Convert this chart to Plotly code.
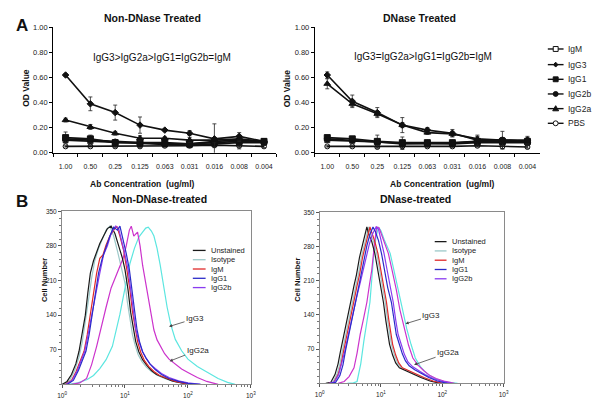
import math
import plotly.graph_objects as go

W, H = 601, 407
def px(x):
    return x / W
def py(y):
    return 1 - y / H

FONT = "Liberation Sans, Arial, sans-serif"

# ---------------- Panel A data ----------------
conc = ["1.00", "0.50", "0.25", "0.125", "0.063", "0.031", "0.016", "0.008", "0.004"]

nd_IgM   = [0.10, 0.09, 0.08, 0.07, 0.065, 0.06, 0.07, 0.08, 0.08]
nd_IgG3  = [0.62, 0.39, 0.32, 0.22, 0.18, 0.155, 0.11, 0.13, 0.09]
nd_IgG1  = [0.12, 0.11, 0.08, 0.08, 0.08, 0.07, 0.08, 0.09, 0.09]
nd_IgG2b = [0.11, 0.10, 0.085, 0.075, 0.07, 0.07, 0.09, 0.10, 0.09]
nd_IgG2a = [0.26, 0.205, 0.155, 0.115, 0.115, 0.10, 0.10, 0.11, 0.09]
nd_PBS   = [0.05, 0.05, 0.05, 0.05, 0.055, 0.055, 0.06, 0.055, 0.05]

nd_IgM_err   = [0.02, 0.02, 0.015, 0.03, 0.015, 0.015, 0.03, 0.05, 0.02]
nd_IgG3_err  = [0.01, 0.055, 0.06, 0.065, 0.01, 0.02, 0.12, 0.03, 0.015]
nd_IgG1_err  = [0.045, 0.03, 0.02, 0.02, 0.02, 0.02, 0.03, 0.03, 0.02]
nd_IgG2b_err = [0.02, 0.02, 0.015, 0.02, 0.015, 0.015, 0.02, 0.02, 0.02]
nd_IgG2a_err = [0.015, 0.02, 0.015, 0.02, 0.01, 0.02, 0.02, 0.02, 0.015]
nd_PBS_err   = [0.005, 0.005, 0.01, 0.005, 0.005, 0.005, 0.01, 0.01, 0.01]

dn_IgM   = [0.10, 0.095, 0.085, 0.075, 0.07, 0.07, 0.08, 0.08, 0.08]
dn_IgG3  = [0.62, 0.41, 0.32, 0.22, 0.18, 0.155, 0.10, 0.10, 0.10]
dn_IgG1  = [0.12, 0.11, 0.09, 0.08, 0.08, 0.08, 0.09, 0.09, 0.09]
dn_IgG2b = [0.11, 0.10, 0.085, 0.07, 0.075, 0.075, 0.09, 0.10, 0.09]
dn_IgG2a = [0.55, 0.39, 0.31, 0.22, 0.16, 0.15, 0.11, 0.10, 0.09]
dn_PBS   = [0.05, 0.05, 0.045, 0.05, 0.05, 0.05, 0.055, 0.05, 0.045]

dn_IgM_err   = [0.01, 0.01, 0.02, 0.05, 0.02, 0.02, 0.02, 0.03, 0.02]
dn_IgG3_err  = [0.025, 0.05, 0.04, 0.06, 0.02, 0.03, 0.04, 0.07, 0.03]
dn_IgG1_err  = [0.015, 0.015, 0.05, 0.015, 0.015, 0.015, 0.02, 0.03, 0.03]
dn_IgG2b_err = [0.01, 0.015, 0.015, 0.015, 0.01, 0.01, 0.02, 0.02, 0.02]
dn_IgG2a_err = [0.04, 0.02, 0.02, 0.02, 0.015, 0.02, 0.02, 0.02, 0.02]
dn_PBS_err   = [0.005, 0.005, 0.01, 0.01, 0.01, 0.01, 0.01, 0.02, 0.01]

# ---------------- Panel B data (x = log10 fluorescence, y = cell number) ----------------
nd_unst_x = [0.00, 0.08, 0.15, 0.22, 0.27, 0.32, 0.37, 0.41, 0.45, 0.50, 0.55, 0.60, 0.66, 0.72, 0.78, 0.84, 0.90, 0.96, 1.00, 1.05, 1.09, 1.13, 1.17, 1.22, 1.28, 1.35, 1.42, 1.50, 1.62, 1.75, 1.90, 2.05]
nd_unst_y = [0, 6, 20, 42, 67, 100, 140, 185, 225, 250, 268, 285, 300, 315, 320, 305, 280, 255, 232, 190, 146, 112, 87, 66, 50, 38, 28, 20, 13, 7, 3, 0]
nd_iso_x = [0.03, 0.12, 0.20, 0.27, 0.32, 0.37, 0.42, 0.47, 0.52, 0.58, 0.64, 0.70, 0.76, 0.82, 0.88, 0.94, 1.00, 1.04, 1.08, 1.12, 1.16, 1.21, 1.27, 1.34, 1.42, 1.52, 1.65, 1.80, 1.95, 2.10]
nd_iso_y = [0, 8, 28, 55, 85, 125, 170, 215, 250, 275, 295, 312, 320, 300, 270, 240, 205, 165, 130, 100, 80, 60, 46, 35, 26, 18, 11, 5, 2, 0]
nd_igm_x = [0.05, 0.15, 0.22, 0.29, 0.35, 0.40, 0.45, 0.50, 0.55, 0.60, 0.65, 0.70, 0.76, 0.82, 0.87, 0.92, 0.98, 1.03, 1.08, 1.12, 1.16, 1.20, 1.25, 1.31, 1.38, 1.46, 1.55, 1.66, 1.80, 1.95, 2.10]
nd_igm_y = [0, 8, 25, 48, 67, 100, 140, 185, 225, 255, 262, 282, 300, 312, 320, 300, 270, 232, 190, 146, 112, 87, 65, 48, 36, 26, 18, 12, 6, 2, 0]
nd_igg1_x = [0.08, 0.18, 0.26, 0.33, 0.38, 0.43, 0.48, 0.53, 0.58, 0.64, 0.70, 0.76, 0.82, 0.88, 0.92, 0.97, 1.02, 1.07, 1.11, 1.15, 1.19, 1.23, 1.28, 1.34, 1.40, 1.48, 1.58, 1.70, 1.85, 2.00, 2.20]
nd_igg1_y = [0, 8, 28, 50, 67, 100, 140, 180, 225, 255, 280, 300, 318, 312, 320, 295, 265, 232, 190, 146, 112, 87, 66, 52, 41, 30, 20, 12, 6, 2, 0]
nd_igg2b_x = [0.06, 0.16, 0.24, 0.31, 0.36, 0.42, 0.47, 0.53, 0.60, 0.66, 0.72, 0.78, 0.85, 0.90, 0.95, 1.00, 1.05, 1.09, 1.13, 1.17, 1.22, 1.28, 1.34, 1.40, 1.48, 1.58, 1.70, 1.85, 2.00, 2.20]
nd_igg2b_y = [0, 8, 27, 50, 67, 105, 140, 180, 225, 262, 280, 305, 320, 315, 290, 262, 232, 190, 146, 112, 87, 66, 52, 41, 32, 22, 14, 7, 3, 0]
nd_igg2a_x = [0.15, 0.28, 0.39, 0.47, 0.55, 0.62, 0.70, 0.78, 0.86, 0.92, 0.97, 1.02, 1.07, 1.10, 1.14, 1.20, 1.24, 1.28, 1.33, 1.38, 1.42, 1.46, 1.51, 1.56, 1.63, 1.70, 1.80, 1.90, 2.00, 2.15, 2.30, 2.48]
nd_igg2a_y = [0, 3, 12, 40, 77, 115, 156, 195, 221, 240, 255, 280, 312, 320, 300, 308, 280, 241, 205, 176, 140, 110, 90, 77, 62, 51, 40, 31, 24, 14, 6, 0]
nd_igg3_x = [0.10, 0.25, 0.40, 0.50, 0.60, 0.70, 0.80, 0.86, 0.92, 0.97, 1.02, 1.08, 1.15, 1.22, 1.28, 1.33, 1.37, 1.42, 1.46, 1.51, 1.56, 1.62, 1.67, 1.73, 1.80, 1.90, 2.00, 2.15, 2.32, 2.48, 2.63, 2.75]
nd_igg3_y = [0, 3, 10, 18, 32, 50, 77, 108, 142, 175, 209, 245, 275, 298, 308, 316, 318, 310, 300, 275, 241, 196, 156, 120, 91, 68, 51, 36, 24, 12, 4, 0]

dn_unst_x = [0.10, 0.18, 0.25, 0.30, 0.34, 0.39, 0.44, 0.48, 0.52, 0.56, 0.60, 0.65, 0.69, 0.73, 0.77, 0.80, 0.85, 0.90, 0.95, 1.00, 1.04, 1.08, 1.11, 1.14, 1.19, 1.24, 1.30, 1.40, 1.52, 1.65, 1.80, 1.97]
dn_unst_y = [0, 2, 18, 40, 66, 95, 125, 146, 175, 200, 222, 258, 280, 300, 320, 305, 290, 266, 232, 196, 166, 128, 100, 80, 58, 42, 32, 26, 20, 12, 5, 0]
dn_iso_x = [0.13, 0.21, 0.28, 0.33, 0.37, 0.42, 0.47, 0.51, 0.55, 0.59, 0.63, 0.68, 0.72, 0.76, 0.80, 0.83, 0.88, 0.93, 0.98, 1.03, 1.07, 1.11, 1.14, 1.17, 1.22, 1.27, 1.33, 1.43, 1.55, 1.68, 1.83, 2.00]
dn_iso_y = [0, 2, 18, 40, 66, 95, 125, 146, 175, 200, 222, 258, 280, 300, 320, 305, 290, 266, 232, 196, 166, 128, 100, 80, 58, 42, 32, 26, 20, 12, 5, 0]
dn_igm_x = [0.15, 0.23, 0.30, 0.35, 0.39, 0.44, 0.49, 0.53, 0.57, 0.61, 0.65, 0.70, 0.74, 0.78, 0.82, 0.86, 0.90, 0.95, 1.00, 1.05, 1.09, 1.13, 1.16, 1.19, 1.24, 1.29, 1.35, 1.45, 1.57, 1.70, 1.85, 2.02]
dn_igm_y = [0, 2, 18, 40, 66, 95, 125, 146, 175, 200, 222, 258, 280, 300, 320, 305, 290, 266, 232, 196, 166, 128, 100, 80, 58, 42, 32, 26, 20, 12, 5, 0]
dn_igg1_x = [0.18, 0.26, 0.33, 0.38, 0.42, 0.47, 0.52, 0.56, 0.60, 0.64, 0.68, 0.73, 0.77, 0.82, 0.87, 0.91, 0.96, 1.01, 1.06, 1.11, 1.17, 1.21, 1.25, 1.30, 1.35, 1.40, 1.46, 1.55, 1.66, 1.78, 1.92, 2.08]
dn_igg1_y = [0, 2, 16, 38, 66, 95, 125, 150, 175, 200, 225, 258, 282, 305, 320, 310, 292, 265, 232, 196, 166, 128, 100, 80, 60, 46, 36, 28, 20, 12, 5, 0]
dn_igg2b_x = [0.15, 0.24, 0.31, 0.36, 0.41, 0.46, 0.51, 0.56, 0.61, 0.66, 0.71, 0.76, 0.81, 0.86, 0.92, 0.96, 1.00, 1.05, 1.10, 1.15, 1.20, 1.24, 1.28, 1.33, 1.38, 1.44, 1.52, 1.62, 1.72, 1.85, 2.00, 2.15]
dn_igg2b_y = [0, 3, 18, 40, 66, 95, 125, 148, 180, 205, 232, 258, 285, 305, 320, 315, 295, 266, 232, 198, 166, 130, 100, 80, 60, 44, 34, 26, 18, 10, 4, 0]
dn_igg2a_x = [0.30, 0.40, 0.48, 0.56, 0.61, 0.66, 0.72, 0.77, 0.81, 0.85, 0.89, 0.93, 0.97, 1.02, 1.07, 1.12, 1.18, 1.25, 1.31, 1.38, 1.45, 1.52, 1.60, 1.70, 1.80, 1.90, 2.05, 2.20]
dn_igg2a_y = [0, 4, 14, 32, 62, 100, 135, 166, 200, 232, 280, 320, 318, 300, 285, 266, 232, 192, 150, 112, 78, 52, 38, 26, 16, 10, 4, 0]
dn_igg3_x = [0.45, 0.55, 0.61, 0.67, 0.72, 0.77, 0.82, 0.88, 0.92, 0.96, 1.00, 1.05, 1.10, 1.15, 1.21, 1.28, 1.35, 1.42, 1.49, 1.56, 1.65, 1.75, 1.88, 2.05, 2.25]
dn_igg3_y = [0, 1, 4, 40, 86, 125, 166, 260, 300, 320, 312, 295, 282, 266, 232, 192, 150, 112, 80, 52, 33, 20, 10, 3, 0]

hist_labels = ["Unstained", "Isotype", "IgM", "IgG1", "IgG2b"]
decade_ticks = [0, 1, 2, 3]
decade_text = ["10<sup>0</sup>", "10<sup>1</sup>", "10<sup>2</sup>", "10<sup>3</sup>"]
count_ticks = [70, 140, 210, 280, 350]

# ---------------- styles ----------------
A_STYLE = {
    "IgM":   dict(symbol="square-open", size=5),
    "IgG3":  dict(symbol="diamond", size=5),
    "IgG1":  dict(symbol="square", size=6),
    "IgG2b": dict(symbol="circle", size=6),
    "IgG2a": dict(symbol="triangle-up", size=6),
    "PBS":   dict(symbol="circle-open", size=5),
}
H_COL = {
    "Unstained": "#1a1a1a",
    "Isotype": "#9cc9c9",
    "IgM": "#e02a2a",
    "IgG1": "#2b2bc8",
    "IgG2b": "#8a3cf0",
    "IgG2a": "#cc33cc",
    "IgG3": "#5ce6e0",
}

fig = go.Figure()

def add_A(name, ys, errs, xa, ya):
    st = A_STYLE[name]
    fig.add_trace(go.Scatter(
        x=conc, y=ys, mode="lines+markers", name=name, showlegend=False,
        xaxis=xa, yaxis=ya,
        line=dict(color="#111111", width=1.6),
        marker=dict(symbol=st["symbol"], size=st["size"], color="#111111",
                    line=dict(color="#111111", width=1)),
        error_y=dict(type="data", array=errs, visible=True, color="#222222",
                     thickness=0.8, width=2),
    ))

for name, ys, errs in [("PBS", nd_PBS, nd_PBS_err), ("IgM", nd_IgM, nd_IgM_err),
                       ("IgG2b", nd_IgG2b, nd_IgG2b_err), ("IgG1", nd_IgG1, nd_IgG1_err),
                       ("IgG2a", nd_IgG2a, nd_IgG2a_err), ("IgG3", nd_IgG3, nd_IgG3_err)]:
    add_A(name, ys, errs, "x", "y")
for name, ys, errs in [("PBS", dn_PBS, dn_PBS_err), ("IgM", dn_IgM, dn_IgM_err),
                       ("IgG2b", dn_IgG2b, dn_IgG2b_err), ("IgG1", dn_IgG1, dn_IgG1_err),
                       ("IgG2a", dn_IgG2a, dn_IgG2a_err), ("IgG3", dn_IgG3, dn_IgG3_err)]:
    add_A(name, ys, errs, "x2", "y2")

def add_H(name, xs, ys, xa, ya):
    fig.add_trace(go.Scatter(
        x=xs, y=ys, mode="lines", name=name, showlegend=False,
        xaxis=xa, yaxis=ya, line=dict(color=H_COL[name], width=1.2),
    ))

for name, xs, ys in [("Isotype", nd_iso_x, nd_iso_y), ("IgG3", nd_igg3_x, nd_igg3_y),
                     ("IgG2a", nd_igg2a_x, nd_igg2a_y), ("Unstained", nd_unst_x, nd_unst_y),
                     ("IgM", nd_igm_x, nd_igm_y), ("IgG2b", nd_igg2b_x, nd_igg2b_y),
                     ("IgG1", nd_igg1_x, nd_igg1_y)]:
    add_H(name, xs, ys, "x3", "y3")
for name, xs, ys in [("Isotype", dn_iso_x, dn_iso_y), ("IgG3", dn_igg3_x, dn_igg3_y),
                     ("IgG2a", dn_igg2a_x, dn_igg2a_y), ("Unstained", dn_unst_x, dn_unst_y),
                     ("IgM", dn_igm_x, dn_igm_y), ("IgG2b", dn_igg2b_x, dn_igg2b_y),
                     ("IgG1", dn_igg1_x, dn_igg1_y)]:
    add_H(name, xs, ys, "x4", "y4")

# ---------------- axes ----------------
def a_xaxis(x0, x1, anchor):
    return dict(domain=[px(x0), px(x1)], anchor=anchor, type="category",
                range=[-0.5, 8.5], tickson="boundaries", ticks="outside", ticklen=3,
                tickcolor="#000", showline=True, linecolor="#000", linewidth=1,
                tickangle=0, ticklabelstandoff=7,
                tickfont=dict(size=7, color="#222", family=FONT),
                showgrid=False, zeroline=False)

def a_yaxis(anchor):
    return dict(domain=[py(152), py(24)], anchor=anchor, range=[0, 1], dtick=0.2,
                tickformat=".2f", ticks="outside", ticklen=3, tickcolor="#000",
                showline=True, linecolor="#000", linewidth=1,
                tickfont=dict(size=7.5, color="#222", family=FONT),
                showgrid=False, zeroline=False)

minor_x = [d + math.log10(k) for d in range(3) for k in range(2, 10)]

def b_xaxis(x0, x1, anchor):
    return dict(domain=[px(x0), px(x1)], anchor=anchor, range=[0, 3],
                tickvals=decade_ticks, ticktext=decade_text, ticks="outside",
                ticklen=3, tickcolor="#555", tickangle=0, ticklabelstandoff=2,
                minor=dict(tickvals=minor_x, ticks="outside", ticklen=2, tickcolor="#777"),
                showline=True, mirror=True, linecolor="#8a8a8a", linewidth=1,
                tickfont=dict(size=6.5, color="#222", family=FONT),
                showgrid=False, zeroline=False)

def b_yaxis(y0, y1, anchor):
    return dict(domain=[py(y1), py(y0)], anchor=anchor, range=[0, 350],
                tickvals=count_ticks, ticks="outside", ticklen=3, tickcolor="#555",
                minor=dict(dtick=14, ticks="outside", ticklen=2, tickcolor="#777"),
                showline=True, mirror=True, linecolor="#8a8a8a", linewidth=1,
                tickfont=dict(size=6.5, color="#222", family=FONT),
                showgrid=False, zeroline=False)

# ---------------- annotations & legend drawings ----------------
ann = []
shapes = []

def text(x, y, s, size, bold=False, xanchor="center", angle=0, color="#111"):
    ann.append(dict(x=px(x), y=py(y), xref="paper", yref="paper", text=(f"<b>{s}</b>" if bold else s),
                    showarrow=False, xanchor=xanchor, yanchor="middle", textangle=angle,
                    font=dict(size=size, color=color, family=FONT)))

text(17, 22, "A", 17, bold=True)
text(17, 202, "B", 17, bold=True)
text(150, 14, "Non-DNase Treated", 10.5, bold=True)
text(422, 14, "DNase Treated", 10.5, bold=True)
text(160, 55, "IgG3>IgG2a>IgG1=IgG2b=IgM", 10)
text(425, 54, "IgG3=IgG2a>IgG1=IgG2b=IgM", 10)
text(140, 184, "Ab Concentration  (ug/ml)", 8.5, bold=True)
text(445, 184, "Ab Concentration  (ug/ml)", 8.5, bold=True)
text(21, 86, "OD Value", 8.5, bold=True, angle=-90)
text(287, 86, "OD Value", 8.5, bold=True, angle=-90)
text(157, 199, "Non-DNase-treated", 10.5, bold=True)
text(417, 199, "DNase-treated", 10.5, bold=True)
text(40, 282, "Cell Number", 7.5, bold=True, angle=-90)
text(298, 282, "Cell Number", 7.5, bold=True, angle=-90)

# Panel A legend
legA_names = ["IgM", "IgG3", "IgG1", "IgG2b", "IgG2a", "PBS"]
legA_rows = [46, 62, 77, 92, 107, 122]
for nm, yy in zip(legA_names, legA_rows):
    shapes.append(dict(type="line", xref="paper", yref="paper", x0=px(552), x1=px(568),
                       y0=py(yy), y1=py(yy), line=dict(color="#111", width=1.4)))
    sym = A_STYLE[nm]["symbol"]
    cx, cy = 560, yy
    if sym.startswith("square"):
        r = 2.5
        shapes.append(dict(type="rect", xref="paper", yref="paper", x0=px(cx - r), x1=px(cx + r),
                           y0=py(cy + r), y1=py(cy - r), line=dict(color="#111", width=1),
                           fillcolor=("white" if sym.endswith("open") else "#111")))
    elif sym.startswith("circle"):
        r = 2.5
        shapes.append(dict(type="circle", xref="paper", yref="paper", x0=px(cx - r), x1=px(cx + r),
                           y0=py(cy + r), y1=py(cy - r), line=dict(color="#111", width=1),
                           fillcolor=("white" if sym.endswith("open") else "#111")))
    elif sym == "diamond":
        pts = [(cx, cy - 2.5), (cx + 2.2, cy), (cx, cy + 2.5), (cx - 2.2, cy)]
        path = "M " + " L ".join(f"{px(a)},{py(b)}" for a, b in pts) + " Z"
        shapes.append(dict(type="path", xref="paper", yref="paper", path=path,
                           line=dict(color="#111", width=1), fillcolor="#111"))
    else:
        pts = [(cx, cy - 3), (cx + 3, cy + 2.2), (cx - 3, cy + 2.2)]
        path = "M " + " L ".join(f"{px(a)},{py(b)}" for a, b in pts) + " Z"
        shapes.append(dict(type="path", xref="paper", yref="paper", path=path,
                           line=dict(color="#111", width=1), fillcolor="#111"))
    text(570, yy, nm, 8.5, xanchor="left", color="#222")

# Panel B legends
def hist_legend(lx0, lx1, tx, rows):
    for nm, yy in zip(hist_labels, rows):
        shapes.append(dict(type="line", xref="paper", yref="paper", x0=px(lx0), x1=px(lx1),
                           y0=py(yy), y1=py(yy), line=dict(color=H_COL[nm], width=1.3)))
        text(tx, yy, nm, 7.5, xanchor="left", color="#222")

hist_legend(191, 204, 207, [252, 261.5, 271, 280.5, 290])
hist_legend(437, 449, 453, [243, 252.5, 262, 271.5, 281])

# arrow annotations
def arrow(xa, ya, x, y, s, ax, ay):
    ann.append(dict(x=x, y=y, xref=xa, yref=ya, text=s, showarrow=True, arrowhead=2,
                    arrowsize=0.8, arrowwidth=0.8, arrowcolor="#444", ax=ax, ay=ay,
                    standoff=0, font=dict(size=8, color="#222", family=FONT)))

arrow("x3", "y3", 1.70, 117, "IgG3", 26, -8)
arrow("x3", "y3", 1.71, 47, "IgG2a", 28, -11)
arrow("x4", "y4", 1.40, 122, "IgG3", 26, -8)
arrow("x4", "y4", 1.54, 38, "IgG2a", 34, -12)

fig.update_layout(
    width=W, height=H, autosize=False,
    margin=dict(l=0, r=0, t=0, b=0),
    paper_bgcolor="white", plot_bgcolor="white",
    font=dict(family=FONT, color="#222"),
    showlegend=False,
    xaxis=a_xaxis(49, 276, "y"), yaxis=a_yaxis("x"),
    xaxis2=a_xaxis(315, 544, "y2"), yaxis2=a_yaxis("x2"),
    xaxis3=b_xaxis(58, 250, "y3"), yaxis3=b_yaxis(212, 389, "x3"),
    xaxis4=b_xaxis(320, 507, "y4"), yaxis4=b_yaxis(213, 388, "x4"),
    annotations=ann, shapes=shapes,
)

fig.write_html("out.html", config={"displayModeBar": False},
               post_script="document.body.style.margin='0';document.body.style.overflow='hidden';")
